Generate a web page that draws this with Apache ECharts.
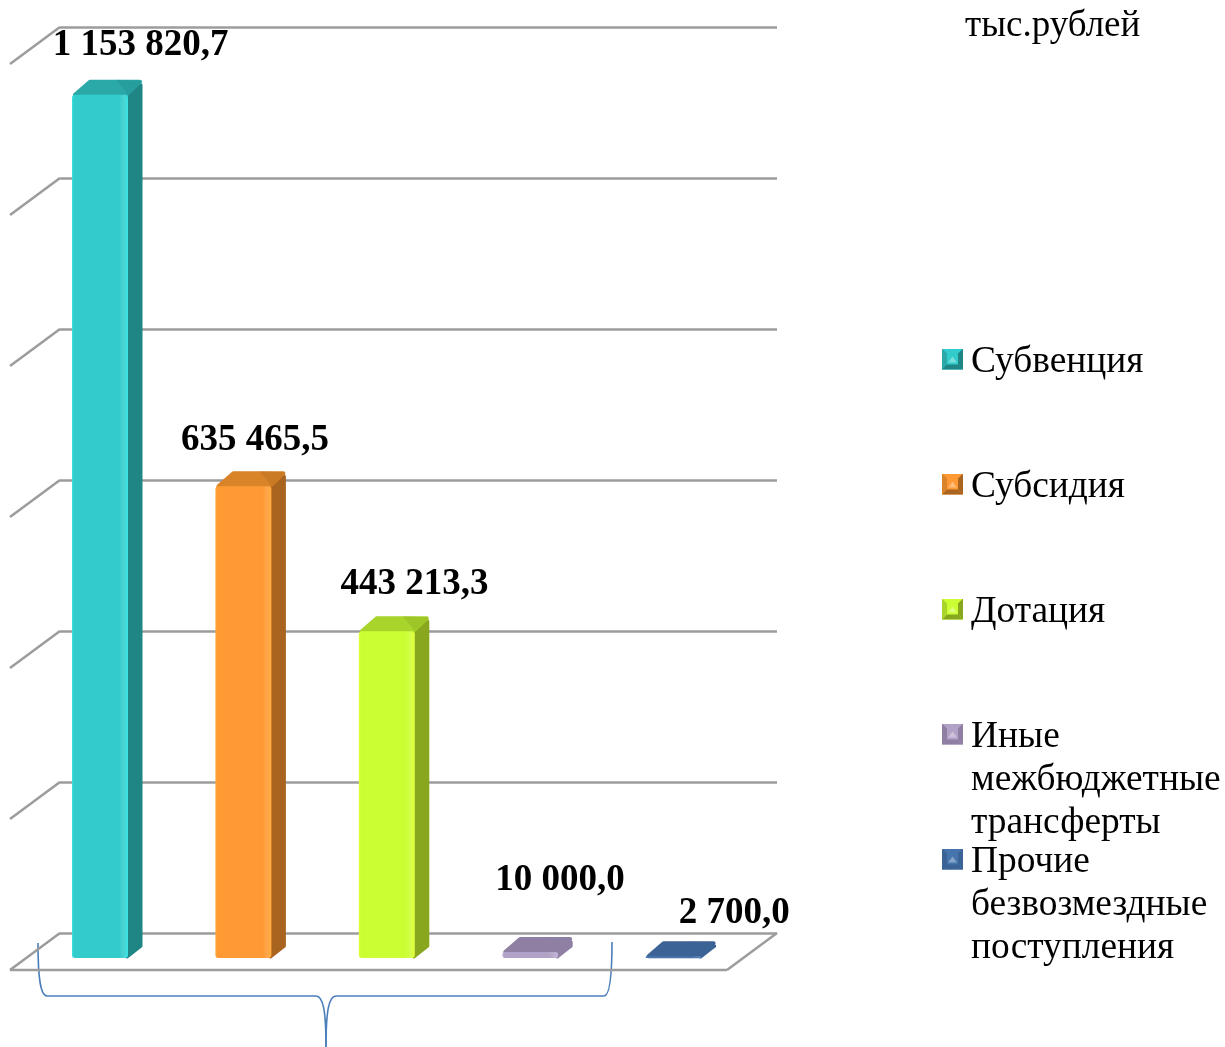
<!DOCTYPE html>
<html>
<head>
<meta charset="utf-8">
<style>
  html, body { margin: 0; padding: 0; background: #fff; }
  #chart { width: 1225px; height: 1047px; }
</style>
<script src="https://cdn.jsdelivr.net/npm/echarts@6/dist/echarts.min.js"></script>
</head>
<body>
<div id="chart"></div>
<script>
var categories = ["Субвенция", "Субсидия", "Дотация", "Иные межбюджетные трансферты", "Прочие безвозмездные поступления"];
var legendLabels = ["Субвенция", "Субсидия", "Дотация", "Иные\nмежбюджетные\nтрансферты", "Прочие\nбезвозмездные\nпоступления"];
var values = [1153820.7, 635465.5, 443213.3, 10000.0, 2700.0];
var gridTicks = [0, 200000, 400000, 600000, 800000, 1000000, 1200000];
var unitText = "тыс.рублей";

// bar colours: front, side, top
var frontColors = ["#33CCCC", "#FF9933", "#CCFF33", "#B3A2C7", "#4674AC"];
var sideColors = ["#1F8585", "#A9641F", "#88A71F", "#8F80A3", "#3B6395"];
var topColors = ["#2BA8A8", "#D98428", "#A9D42B", "#8F80A3", "#3B6395"];

// value label shift from the point on the back wall
var labelShiftX = [9, -20, -4, -2, 29];
var labelShiftY = [-16, -13, -14, -45, -18];
var legendCenters = [362, 487, 612, 737, 862];

var serif = '"Liberation Serif", "Times New Roman", serif';
var barW = 56, depthX = 15, depthY = 15;
var planeX = -31.7, planeY = 25; // bars stand in front of the back wall

function fmt(v) {
  var s = v.toFixed(1).split(".");
  return s[0].replace(/\B(?=(\d{3})+$)/g, " ") + "," + s[1];
}

// empty space right and below puts the marker 3px left of the text and 3px above its middle
function bevelIcon(i) {
  var svg = '<svg xmlns="http://www.w3.org/2000/svg" width="24" height="27">' +
    '<rect width="21" height="21" fill="' + frontColors[i] + '"/>' +
    '<polygon points="0,0 5,5 5,16 0,21" fill="' + topColors[i] + '"/>' +
    '<polygon points="21,0 16,5 16,16 21,21" fill="' + sideColors[i] + '"/>' +
    '<polygon points="0,21 5,16 16,16 21,21" fill="' + sideColors[i] + '"/>' +
    '<polygon points="10.5,8 15,14 6,14" fill="#ffffff" fill-opacity="0.35"/>' +
    '</svg>';
  return "image://data:image/svg+xml;charset=utf-8," + encodeURIComponent(svg);
}

function renderWall(params, api) {
  var t = api.value(1);
  var y = api.coord([0, t])[1];
  var cs = params.coordSys;
  var line = { stroke: "#9C9C9C", lineWidth: 2.5 };
  var kids = [{ type: "line", shape: { x1: cs.x, y1: y, x2: cs.x - 50, y2: y + 37 }, style: line }];
  if (t === 0) {
    kids.push({ type: "line", shape: { x1: cs.x - 50, y1: y + 37, x2: cs.x + cs.width - 50, y2: y + 37 }, style: line });
    kids.push({ type: "line", shape: { x1: cs.x + cs.width - 50, y1: y + 37, x2: cs.x + cs.width, y2: y }, style: line });
  }
  return { type: "group", children: kids };
}

function renderBar(params, api) {
  var i = api.value(0), v = api.value(1);
  var p = api.coord([i, v]);
  var zero = api.coord([i, 0]);
  var px = zero[1] - p[1];
  var x = p[0] + planeX - barW / 2;
  var base = zero[1] + planeY;
  var top = base - Math.max(px - 8, px * 0.8);
  var r = x + barW;
  var front = frontColors[i], side = sideColors[i], cap = topColors[i];
  var edge = echarts.color.lift(front, 0.12);
  return {
    type: "group",
    children: [
      { type: "polygon", shape: { points: [[r - 1, base - 1], [r + depthX - 2, base - 12], [r + depthX - 2, top - depthY + 5], [r - 1, top]] },
        style: { fill: side, stroke: side, lineWidth: 3, lineJoin: "round" } },
      { type: "polygon", shape: { points: [[x + 3, top], [x + depthX + 3, top - depthY + 2], [r + depthX - 3, top - depthY + 2], [r - 2, top]] },
        style: { fill: cap, stroke: cap, lineWidth: 4, lineJoin: "round" } },
      { type: "polygon", shape: { points: [[r - 12, top - depthY], [r + depthX - 2, top - depthY + 1], [r + depthX - 1, top - depthY + 3], [r, top], [r - 2, top - 3]] },
        style: { fill: side, opacity: 0.3 } },
      { type: "rect", shape: { x: x, y: top, width: barW, height: base - top, r: Math.min(3, (base - top) / 2) },
        style: { fill: new echarts.graphic.LinearGradient(0, 0, 1, 0, [
          { offset: 0, color: echarts.color.lift(front, -0.1) }, { offset: 0.04, color: front }, { offset: 0.84, color: front },
          { offset: 0.92, color: edge }, { offset: 1, color: echarts.color.lift(front, -0.12) }
        ]) } },
      { type: "text", z2: 50, style: { text: fmt(v), x: p[0] + labelShiftX[i], y: p[1] + labelShiftY[i],
        align: "center", verticalAlign: "middle", font: "bold 37px " + serif, fill: "#000" } }
    ]
  };
}

var series = [{
  type: "custom", name: "wall", silent: true, z: 1,
  renderItem: renderWall,
  data: gridTicks.map(function (t) { return [0, t]; })
}];
categories.forEach(function (name, i) {
  series.push({
    type: "custom", name: name, z: 5,
    renderItem: renderBar,
    data: [[i, values[i]]]
  });
});

var legends = categories.map(function (name, i) {
  var n = legendLabels[i].split("\n").length;
  var pad = new Array(n).join("\n"); // keeps the icon level with the first line
  var rows = 2 * n - 1;
  return {
    left: 942, top: legendCenters[i] - rows * 21.5, padding: 0,
    orient: "vertical", selectedMode: false, data: [{ name: name, icon: bevelIcon(i) }],
    itemWidth: 24, itemHeight: 27,
    formatter: function () { return pad + legendLabels[i]; },
    textStyle: { fontFamily: serif, fontSize: 37.4, lineHeight: 43, color: "#000" }
  };
});

// curly brace under the first four bars
var braceStroke = { stroke: "#4A7EBB", lineWidth: 1.6, fill: "none" };
var braceCurves = [
  [38, 943, 38, 975, 40, 996, 47, 996],
  [47, 996, 130, 996, 230, 996, 316, 996],
  [316, 996, 323, 996, 326, 1010, 326, 1047],
  [326, 1047, 326, 1010, 329, 996, 336, 996],
  [336, 996, 420, 996, 520, 996, 604, 996],
  [604, 996, 610, 996, 612, 975, 612, 942]
];

var myChart = echarts.init(document.getElementById("chart"));
myChart.setOption({
  animation: false,
  backgroundColor: "#fff",
  title: { text: unitText, left: 965, top: 8, padding: 0,
    textStyle: { fontFamily: serif, fontSize: 37, fontWeight: "normal", color: "#000" } },
  legend: legends,
  grid: { left: 60, top: 27, width: 717, height: 906 },
  xAxis: { type: "category", data: categories, axisLine: { show: false }, axisTick: { show: false }, axisLabel: { show: false } },
  yAxis: {
    type: "value", min: 0, max: 1200000, interval: 200000,
    axisLabel: { show: false }, axisLine: { show: false }, axisTick: { show: false },
    splitLine: { show: true, lineStyle: { color: "#9C9C9C", width: 2.5 } }
  },
  series: series,
  graphic: braceCurves.map(function (c) {
    return { type: "bezierCurve", silent: true,
      shape: { x1: c[0], y1: c[1], cpx1: c[2], cpy1: c[3], cpx2: c[4], cpy2: c[5], x2: c[6], y2: c[7] },
      style: braceStroke };
  })
});
</script>
</body>
</html>
